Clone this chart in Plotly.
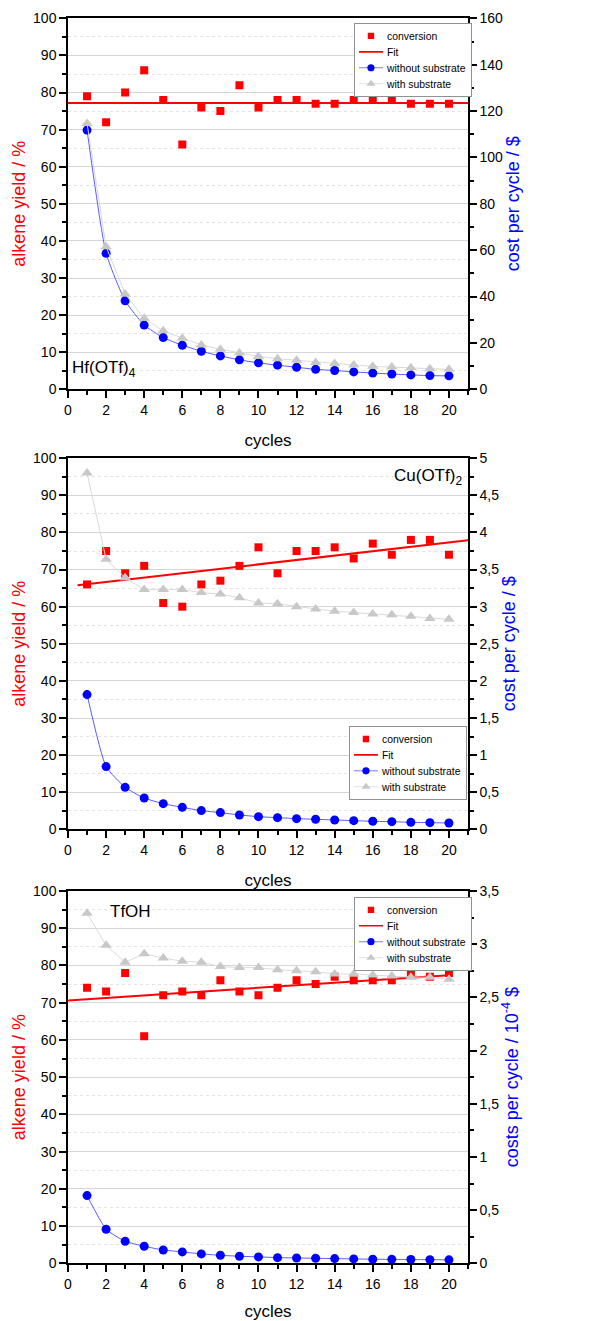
import plotly.graph_objects as go

# ---------------- data ----------------
cycles = [1, 2, 3, 4, 5, 6, 7, 8, 9, 10, 11, 12, 13, 14, 15, 16, 17, 18, 19, 20]

# Hf(OTf)4
hf_conversion = [79, 72, 80, 86, 78, 66, 76, 75, 82, 76, 78, 78, 77, 77, 78, 78, 78, 77, 77, 77]
hf_fit_x = [0, 21]
hf_fit_y = [77.2, 77.2]
hf_without = [111.8, 58.7, 38.2, 27.7, 22.3, 19.0, 16.4, 14.4, 12.7, 11.4,
              10.4, 9.5, 8.6, 8.1, 7.5, 7.0, 6.6, 6.2, 5.9, 5.8]
hf_with = [114.7, 61.5, 41.1, 30.6, 25.2, 22.0, 19.1, 17.3, 15.7, 14.2,
           13.2, 12.5, 11.6, 11.1, 10.5, 9.9, 9.6, 9.3, 8.9, 8.6]

# Cu(OTf)2
cu_conversion = [66, 75, 69, 71, 61, 60, 66, 67, 71, 76, 69, 75, 75, 76, 73, 77, 74, 78, 78, 74]
cu_fit_x = [0.5, 21]
cu_fit_y = [65.8, 77.9]
cu_without = [1.815, 0.845, 0.566, 0.422, 0.346, 0.296, 0.252, 0.225, 0.193, 0.171,
              0.157, 0.144, 0.135, 0.126, 0.117, 0.108, 0.103, 0.094, 0.090, 0.085]
cu_with = [4.80, 3.64, 3.39, 3.23, 3.23, 3.23, 3.19, 3.17, 3.12, 3.05,
           3.04, 3.00, 2.97, 2.94, 2.92, 2.90, 2.89, 2.87, 2.84, 2.83]

# TfOH
tf_conversion = [74, 73, 78, 61, 72, 73, 72, 76, 73, 72, 74, 76, 75, 77, 76, 76, 76, 78, 77, 78]
tf_fit_x = [0, 20]
tf_fit_y = [70.6, 77.4]
tf_without = [0.636, 0.320, 0.207, 0.160, 0.125, 0.107, 0.088, 0.075, 0.066, 0.060,
              0.053, 0.050, 0.047, 0.044, 0.041, 0.038, 0.037, 0.035, 0.034, 0.032]
tf_with = [3.29, 2.99, 2.83, 2.91, 2.87, 2.84, 2.83, 2.79, 2.78, 2.78,
           2.76, 2.75, 2.74, 2.72, 2.72, 2.71, 2.70, 2.69, 2.69, 2.67]

catalyst_labels = ["Hf(OTf)<sub>4</sub>", "Cu(OTf)<sub>2</sub>", "TfOH"]
right_titles = ["cost per cycle / $", "cost per cycle / $", "costs per cycle / 10<sup>-4</sup> $"]
right_ranges = [[0, 160], [0, 5], [0, 3.5]]
right_dticks = [20, 0.5, 0.5]
right_minor = [10, 0.25, 0.25]

panels = [
    (hf_conversion, hf_fit_x, hf_fit_y, hf_without, hf_with),
    (cu_conversion, cu_fit_x, cu_fit_y, cu_without, cu_with),
    (tf_conversion, tf_fit_x, tf_fit_y, tf_without, tf_with),
]

# ---------------- layout geometry ----------------
W, H = 601, 1321
domains = [[0.7053, 0.9861], [0.3722, 0.6531], [0.0437, 0.3255]]
legend_pos = [dict(x=0.715, y=0.9826, xanchor="left", yanchor="top"),
              dict(x=0.7025, y=0.4504, xanchor="left", yanchor="top"),
              dict(x=0.715, y=0.3210, xanchor="left", yanchor="top")]
label_pos = [dict(x=0.005, y=0.7207, xanchor="left"),
             dict(x=0.99, y=0.6391, xanchor="right"),
             dict(x=0.155, y=0.3099, xanchor="center")]

FONT = "Liberation Sans, Arial, sans-serif"
RED = "#ff0000"
BLUE = "#0000ff"
BLUE_LINE = "#5a5aff"
GREY = "#c8c8c8"
GREY_LINE = "#dadada"

fig = go.Figure()
layout = dict(
    width=W, height=H,
    margin=dict(l=68, r=133, t=0, b=0, autoexpand=False),
    paper_bgcolor="white", plot_bgcolor="white",
    font=dict(family=FONT, size=14, color="black"),
    separators=", ",
    showlegend=True,
)

annotations = []
for i, (conv, fx, fy, wo, wi) in enumerate(panels):
    n = i + 1
    xa = "x" if n == 1 else f"x{n}"
    ya_left = f"y{2*n-1}" if n > 1 else "y"
    ya_right = f"y{2*n}"
    leg = "legend" if n == 1 else f"legend{n}"

    fig.add_trace(go.Scatter(x=cycles, y=conv, mode="markers", name="conversion",
                             marker=dict(symbol="square", size=8, color=RED),
                             xaxis=xa, yaxis=ya_left, legend=leg))
    fig.add_trace(go.Scatter(x=fx, y=fy, mode="lines", name="Fit",
                             line=dict(color=RED, width=2),
                             xaxis=xa, yaxis=ya_left, legend=leg))
    fig.add_trace(go.Scatter(x=cycles, y=wo, mode="lines+markers", name="without substrate",
                             line=dict(color=BLUE_LINE, width=1, shape="spline", smoothing=0.5),
                             marker=dict(symbol="circle", size=9, color=BLUE),
                             xaxis=xa, yaxis=ya_right, legend=leg))
    fig.add_trace(go.Scatter(x=cycles, y=wi, mode="lines+markers", name="with substrate",
                             line=dict(color=GREY_LINE, width=1),
                             marker=dict(symbol="triangle-up", size=10, color=GREY),
                             xaxis=xa, yaxis=ya_right, legend=leg))

    xkey = "xaxis" if n == 1 else f"xaxis{n}"
    ylkey = "yaxis" if n == 1 else f"yaxis{2*n-1}"
    yrkey = f"yaxis{2*n}"
    ylname = "y" if n == 1 else f"y{2*n-1}"

    layout[xkey] = dict(
        domain=[0, 1], anchor=ylname, range=[0, 21],
        tickmode="linear", tick0=0, dtick=2,
        ticks="outside", ticklen=7, tickwidth=1.5, tickcolor="black",
        minor=dict(dtick=1, ticks="outside", ticklen=4, tickwidth=1.5, tickcolor="black"),
        showline=True, linecolor="black", linewidth=1.5, mirror=True,
        showgrid=False, zeroline=False,
        tickfont=dict(size=14),
        title=dict(text="cycles", font=dict(size=17), standoff=17),
    )
    layout[ylkey] = dict(
        domain=domains[i], anchor=xa, range=[0, 100],
        tickmode="linear", tick0=0, dtick=10,
        ticks="outside", ticklen=7, tickwidth=1.5, tickcolor="black",
        minor=dict(dtick=5, ticks="outside", ticklen=4, tickwidth=1.5, tickcolor="black",
                   showgrid=True, gridcolor="#e4e4e4", griddash="dot", gridwidth=1),
        showline=True, linecolor="black", linewidth=1.5,
        showgrid=True, gridcolor="#d6d6d6", gridwidth=1, zeroline=False,
        tickfont=dict(size=14),
        title=dict(text="alkene yield / %", font=dict(size=18, color=RED), standoff=3),
    )
    layout[yrkey] = dict(
        overlaying=ylname, side="right", anchor=xa, range=right_ranges[i],
        tickmode="linear", tick0=0, dtick=right_dticks[i],
        ticks="outside", ticklen=7, tickwidth=1.5, tickcolor="black",
        minor=dict(dtick=right_minor[i], ticks="outside", ticklen=4, tickwidth=1.5, tickcolor="black"),
        showline=True, linecolor="black", linewidth=1.5,
        showgrid=False, zeroline=False,
        tickfont=dict(size=14),
        title=dict(text=right_titles[i], font=dict(size=18, color=BLUE), standoff=4),
    )
    layout[leg] = dict(
        **legend_pos[i],
        bgcolor="white", bordercolor="#8c8c8c", borderwidth=1.2,
        font=dict(size=13, color="black"), tracegroupgap=0, traceorder="normal",
    )
    annotations.append(dict(
        text=catalyst_labels[i], xref="paper", yref="paper",
        **label_pos[i], yanchor="middle", showarrow=False,
        font=dict(size=17, color="black"),
    ))

layout["annotations"] = annotations
fig.update_layout(**layout)

post = """
document.body.style.margin='0';
document.body.style.overflow='hidden';
document.querySelectorAll('g.legend, g.legend2, g.legend3').forEach(function(g){
  var t = g.getAttribute('transform') || '';
  if (t.indexOf('scale') < 0) { g.setAttribute('transform', t + ' scale(0.8)'); }
});
"""
fig.write_html("out.html", config={"displayModeBar": False}, post_script=post)
